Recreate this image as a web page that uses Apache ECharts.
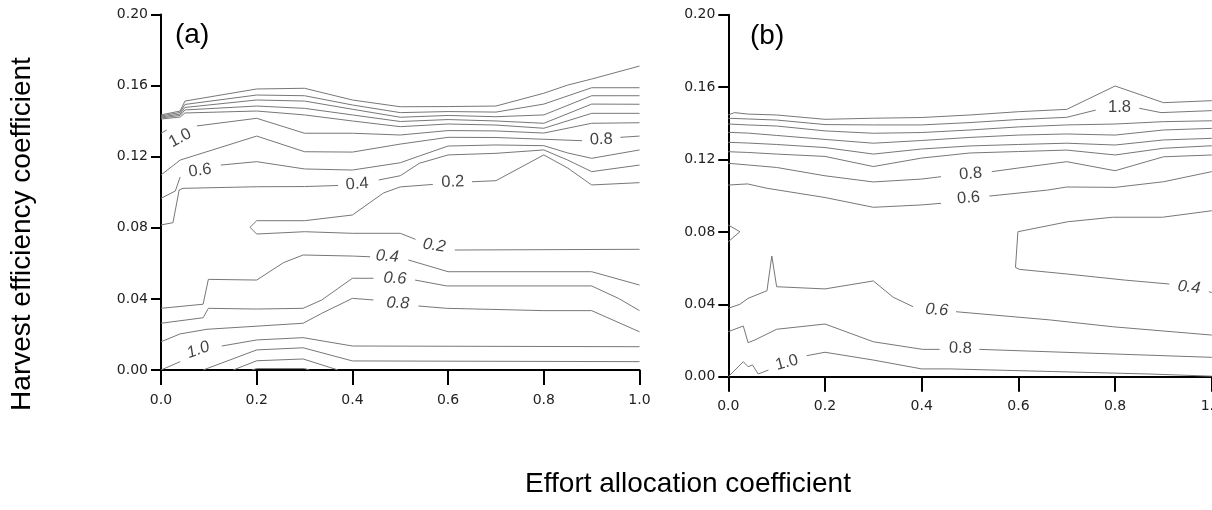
<!DOCTYPE html>
<html>
<head>
<meta charset="utf-8">
<script src="https://cdn.jsdelivr.net/npm/echarts@6.0.0/dist/echarts.min.js"></script>
<style>
  html, body { margin: 0; padding: 0; background: #fff; }
  #chart { width: 1212px; height: 510px; }
</style>
</head>
<body>
<div id="chart"></div>
<script>
// Axis ticks shared by both panels
const xTickValues = [0, 0.2, 0.4, 0.6, 0.8, 1.0];
const yTickValues = [0, 0.04, 0.08, 0.12, 0.16, 0.20];

// ---- Panel (a): contour paths [effort, harvest efficiency] ----
const a20 = [[0,0.1435],[0.04,0.1457],[0.05,0.1513],[0.2,0.1581],[0.3,0.1585],[0.4,0.1519],[0.5,0.1481],[0.6,0.1482],[0.7,0.1485],[0.8,0.1557],[0.85,0.1603],[0.9,0.1637],[1,0.1710]];
const a18 = [[0,0.1429],[0.04,0.1449],[0.05,0.1494],[0.2,0.1547],[0.3,0.1543],[0.4,0.1491],[0.5,0.1448],[0.6,0.1454],[0.7,0.1451],[0.8,0.1496],[0.9,0.1588],[1,0.1588]];
const a16 = [[0,0.1423],[0.04,0.1440],[0.05,0.1477],[0.2,0.1519],[0.3,0.1513],[0.4,0.1467],[0.5,0.1422],[0.6,0.1432],[0.7,0.1425],[0.8,0.1435],[0.9,0.1543],[1,0.1543]];
const a14 = [[0,0.1418],[0.04,0.1432],[0.05,0.1463],[0.2,0.1485],[0.3,0.1472],[0.4,0.1435],[0.5,0.1398],[0.6,0.1409],[0.7,0.1401],[0.8,0.1388],[0.9,0.1496],[1,0.1495]];
const a12 = [[0,0.1412],[0.04,0.1423],[0.05,0.1446],[0.2,0.1457],[0.3,0.1435],[0.4,0.1401],[0.5,0.1369],[0.6,0.1384],[0.7,0.1378],[0.8,0.1360],[0.9,0.1444],[1,0.1444]];
const a10L = [[0,0.1332],[0.012,0.1350]];
const a10R = [[0.075,0.1373],[0.2,0.1416],[0.3,0.1332],[0.4,0.1332],[0.5,0.1322],[0.6,0.1347],[0.7,0.1345],[0.8,0.1333],[0.9,0.1388],[1,0.1391]];
const a08L = [[0,0.1097],[0.04,0.1181],[0.2,0.1316],[0.3,0.1228],[0.4,0.1226],[0.5,0.1271],[0.6,0.1309],[0.7,0.1308],[0.8,0.1298],[0.88,0.1290]];
const a08R = [[0.96,0.1309],[1,0.1316]];
const a06uL = [[0,0.0966],[0.03,0.1007],[0.04,0.1086]];
const a06uR = [[0.125,0.1153],[0.2,0.1172],[0.3,0.1131],[0.4,0.1125],[0.5,0.1166],[0.54,0.1204],[0.6,0.1260],[0.7,0.1266],[0.8,0.1262],[0.85,0.1221],[0.9,0.1191],[1,0.1238]];
const a04uL = [[0,0.0816],[0.025,0.0829],[0.038,0.1013],[0.046,0.1022],[0.2,0.1031],[0.3,0.1032],[0.37,0.1038]];
const a04uR = [[0.455,0.1069],[0.5,0.1093],[0.54,0.1163],[0.6,0.1210],[0.7,0.1219],[0.8,0.1238],[0.85,0.1181],[0.9,0.1116],[1,0.1153]];
const a02uL = [[0.186,0.0803],[0.2,0.0840],[0.3,0.0840],[0.4,0.0872],[0.465,0.0996],[0.5,0.1030],[0.568,0.1044]];
const a02uR = [[0.65,0.1059],[0.7,0.1065],[0.8,0.1210],[0.85,0.1136],[0.9,0.1041],[1,0.1054]];
const a02lL = [[0.186,0.0803],[0.2,0.0765],[0.3,0.0778],[0.4,0.0769],[0.5,0.0769],[0.532,0.0735]];
const a02lR = [[0.614,0.0675],[1,0.0679]];
const a04lL = [[0,0.0347],[0.088,0.0370],[0.099,0.0510],[0.2,0.0506],[0.256,0.0604],[0.297,0.0647],[0.4,0.0641],[0.437,0.0637]];
const a04lR = [[0.517,0.0619],[0.6,0.0553],[0.9,0.0553],[1,0.0478]];
const a06lL = [[0,0.0263],[0.088,0.0294],[0.099,0.0347],[0.2,0.0343],[0.297,0.0347],[0.336,0.0394],[0.4,0.0516],[0.444,0.0516]];
const a06lR = [[0.531,0.0506],[0.597,0.0473],[0.9,0.0473],[0.956,0.0403],[1,0.0334]];
const a08lL = [[0,0.0159],[0.04,0.0203],[0.096,0.0229],[0.297,0.0263],[0.336,0.0319],[0.4,0.0403],[0.444,0.0394]];
const a08lR = [[0.538,0.0360],[0.597,0.0347],[0.8,0.0334],[0.9,0.0334],[1,0.0215]];
const a10lL = [[0,0],[0.04,0.0047]];
const a10lR = [[0.127,0.0135],[0.2,0.0169],[0.297,0.0182],[0.4,0.0135],[1,0.0131]];
const a12l = [[0.088,0],[0.2,0.0113],[0.297,0.0125],[0.4,0.0051],[1,0.0047]];
const a14l = [[0.151,0],[0.2,0.0052],[0.297,0.0062],[0.37,0]];
const a16l = [[0.19,0],[0.2,0.0008],[0.3,0.0008],[0.31,0]];

// contour labels of panel (a): [effort, harvest, level]
const labelsA = [[0.040,0.1305,1.0],[0.0815,0.1122,0.6],[0.410,0.1046,0.4],[0.610,0.1058,0.2],[0.920,0.1297,0.8],
                 [0.571,0.0700,0.2],[0.473,0.0639,0.4],[0.489,0.0515,0.6],[0.495,0.0375,0.8],[0.078,0.0113,1.0]];
const labelRotA = [28, 8, 4, 2, 2, -8, -4, -3, -2, 20];
const labelItalicA = [false, false, false, false, false, true, true, true, true, true];

// ---- Panel (b): contour paths ----
const b20 = [[0,0.1446],[0.013,0.1459],[0.04,0.1451],[0.1,0.1446],[0.2,0.1422],[0.3,0.1428],[0.4,0.1432],[0.5,0.1446],[0.6,0.1464],[0.7,0.1477],[0.8,0.1606],[0.9,0.1514],[1,0.1525]];
const b18L = [[0,0.1428],[0.04,0.1424],[0.1,0.1418],[0.2,0.1393],[0.3,0.1391],[0.4,0.1391],[0.5,0.1404],[0.6,0.1421],[0.7,0.1433],[0.76,0.1473]];
const b18R = [[0.85,0.1483],[0.895,0.1459],[1,0.1470]];
const b16 = [[0,0.1396],[0.04,0.1391],[0.1,0.1385],[0.2,0.1358],[0.3,0.1345],[0.4,0.1349],[0.5,0.1363],[0.6,0.1380],[0.7,0.1391],[0.8,0.1396],[0.9,0.1409],[1,0.1414]];
const b14 = [[0,0.1350],[0.04,0.1346],[0.1,0.1333],[0.2,0.1311],[0.3,0.1290],[0.4,0.1305],[0.5,0.1322],[0.6,0.1335],[0.7,0.1341],[0.8,0.1335],[0.9,0.1363],[1,0.1372]];
const b12 = [[0,0.1295],[0.04,0.1291],[0.1,0.1283],[0.2,0.1266],[0.3,0.1230],[0.4,0.1258],[0.5,0.1275],[0.6,0.1283],[0.7,0.1290],[0.8,0.1280],[0.9,0.1308],[1,0.1317]];
const b10 = [[0,0.1243],[0.04,0.1239],[0.1,0.1230],[0.2,0.1217],[0.3,0.1161],[0.4,0.1208],[0.5,0.1236],[0.6,0.1244],[0.7,0.1252],[0.8,0.1225],[0.9,0.1262],[1,0.1276]];
const b08uL = [[0,0.1179],[0.04,0.1170],[0.1,0.1156],[0.2,0.1110],[0.3,0.1076],[0.4,0.1092],[0.44,0.1105]];
const b08uR = [[0.545,0.1133],[0.6,0.1153],[0.7,0.1188],[0.8,0.1138],[0.9,0.1215],[1,0.1225]];
const b06uL = [[0,0.1059],[0.04,0.1065],[0.08,0.1041],[0.2,0.0990],[0.3,0.0936],[0.4,0.0949],[0.44,0.0958]];
const b06uR = [[0.54,0.0998],[0.66,0.1031],[0.7,0.1048],[0.8,0.1046],[0.9,0.1077],[1,0.1133]];
const b04L = [[1,0.0917],[0.898,0.0881],[0.795,0.0881],[0.702,0.0856],[0.599,0.0801],[0.594,0.0604],[0.602,0.0593],[0.702,0.0567],[0.819,0.0534],[0.912,0.0512]];
const b04R = [[0.994,0.0470],[1,0.0465]];
const b04tip = [[0,0.0838],[0.024,0.0801],[0,0.0746]];
const b06lL = [[0,0.0378],[0.024,0.0400],[0.041,0.0433],[0.080,0.0475],[0.090,0.0667],[0.100,0.0497],[0.2,0.0485],[0.3,0.0529],[0.341,0.0439],[0.382,0.0387]];
const b06lR = [[0.471,0.0359],[0.664,0.0314],[0.795,0.0276],[1,0.0230]];
const b08lL = [[0,0.0249],[0.031,0.0280],[0.041,0.0188],[0.055,0.0203],[0.1,0.0262],[0.2,0.0291],[0.3,0.0193],[0.402,0.0151],[0.437,0.0151]];
const b08lR = [[0.519,0.0151],[1,0.0107]];
const b10lL = [[0,0],[0.031,0.0083],[0.041,0.0055],[0.05,0.0065],[0.062,0.0015],[0.083,0.0037]];
const b10lR = [[0.162,0.0116],[0.2,0.0135],[0.3,0.0092],[0.4,0.0043],[0.458,0.0043],[0.87,0.0015],[1,0.0003]];

// contour labels of panel (b)
const labelsB = [[0.809,0.1490,1.8],[0.501,0.1120,0.8],[0.497,0.0987,0.6],[0.953,0.0493,0.4],[0.431,0.0368,0.6],[0.480,0.0157,0.8],[0.121,0.0078,1.0]];
const labelRotB = [0, 4, 5, -6, -4, -2, 15];
const labelItalicB = [false, false, false, true, true, false, false];

const pathsA = [a20,a18,a16,a14,a12,a10L,a10R,a08L,a08R,a06uL,a06uR,a04uL,a04uR,a02uL,a02uR,a02lL,a02lR,
                a04lL,a04lR,a06lL,a06lR,a08lL,a08lR,a10lL,a10lR,a12l,a14l,a16l];
const pathsB = [b20,b18L,b18R,b16,b14,b12,b10,b08uL,b08uR,b06uL,b06uR,b04L,b04R,b04tip,
                b06lL,b06lR,b08lL,b08lR,b10lL,b10lR];

const LINE_COLOR = '#777777';
const TICK_FONT = 'DejaVu Sans';
const TEXT_FONT = '"Liberation Sans", Arial, sans-serif';

function contourSeries(paths, idx) {
  return paths.map(p => ({
    type: 'line', xAxisIndex: idx, yAxisIndex: idx, data: p,
    symbol: 'none', showSymbol: false, silent: true, z: 2,
    lineStyle: { color: LINE_COLOR, width: 1 }
  }));
}

function labelSeries(labels, rots, italics, idx) {
  return {
    type: 'scatter', xAxisIndex: idx, yAxisIndex: idx, symbolSize: 0, silent: true, z: 3,
    data: labels.map((l, i) => ({
      value: l,
      label: { rotate: rots[i], fontStyle: italics[i] ? 'italic' : 'normal' }
    })),
    label: {
      show: true, position: 'inside', color: '#111',
      fontFamily: TEXT_FONT, fontSize: 16.5,
      formatter: p => p.value[2].toFixed(1)
    }
  };
}

function xAxis(idx) {
  return {
    type: 'value', gridIndex: idx,
    min: xTickValues[0], max: xTickValues[xTickValues.length - 1],
    interval: xTickValues[1] - xTickValues[0],
    axisLine: { onZero: false, lineStyle: { color: '#000', width: 2 } },
    axisTick: { inside: false, length: 15, lineStyle: { color: '#000', width: 2 } },
    axisLabel: { margin: 23, color: '#222', fontFamily: TICK_FONT, fontSize: 14,
                 formatter: v => v.toFixed(1) },
    splitLine: { show: false }
  };
}
function yAxis(idx) {
  return {
    type: 'value', gridIndex: idx,
    min: yTickValues[0], max: yTickValues[yTickValues.length - 1],
    interval: yTickValues[1] - yTickValues[0],
    axisLine: { onZero: false, lineStyle: { color: '#000', width: 2 } },
    axisTick: { inside: false, length: 10, lineStyle: { color: '#000', width: 2 } },
    axisLabel: { margin: 13, color: '#222', fontFamily: TICK_FONT, fontSize: 14,
                 formatter: v => v.toFixed(2) },
    splitLine: { show: false }
  };
}

const chart = echarts.init(document.getElementById('chart'), null, { renderer: 'canvas' });
chart.setOption({
  animation: false,
  backgroundColor: '#fff',
  grid: [
    { left: 161, top: 14.5, width: 478.5, height: 355.5, containLabel: false, outerBoundsMode: 'none' },
    { left: 728.3, top: 14.7, width: 483.5, height: 362, containLabel: false, outerBoundsMode: 'none' }
  ],
  xAxis: [xAxis(0), xAxis(1)],
  yAxis: [yAxis(0), yAxis(1)],
  series: [
    ...contourSeries(pathsA, 0),
    ...contourSeries(pathsB, 1),
    labelSeries(labelsA, labelRotA, labelItalicA, 0),
    labelSeries(labelsB, labelRotB, labelItalicB, 1)
  ],
  graphic: [
    { type: 'text', x: 175, y: 35, silent: true,
      style: { text: '(a)', font: '28px ' + TEXT_FONT, fill: '#000', textAlign: 'left', textVerticalAlign: 'middle' } },
    { type: 'text', x: 750, y: 36, silent: true,
      style: { text: '(b)', font: '28px ' + TEXT_FONT, fill: '#000', textAlign: 'left', textVerticalAlign: 'middle' } },
    { type: 'text', x: 688, y: 484, silent: true,
      style: { text: 'Effort allocation coefficient', font: '28px ' + TEXT_FONT, fill: '#000',
               textAlign: 'center', textVerticalAlign: 'middle' } },
    { type: 'text', x: 22, y: 234, rotation: Math.PI / 2, silent: true,
      style: { text: 'Harvest efficiency coefficient', font: '28px ' + TEXT_FONT, fill: '#000',
               textAlign: 'center', textVerticalAlign: 'middle' } }
  ]
});
</script>
</body>
</html>
